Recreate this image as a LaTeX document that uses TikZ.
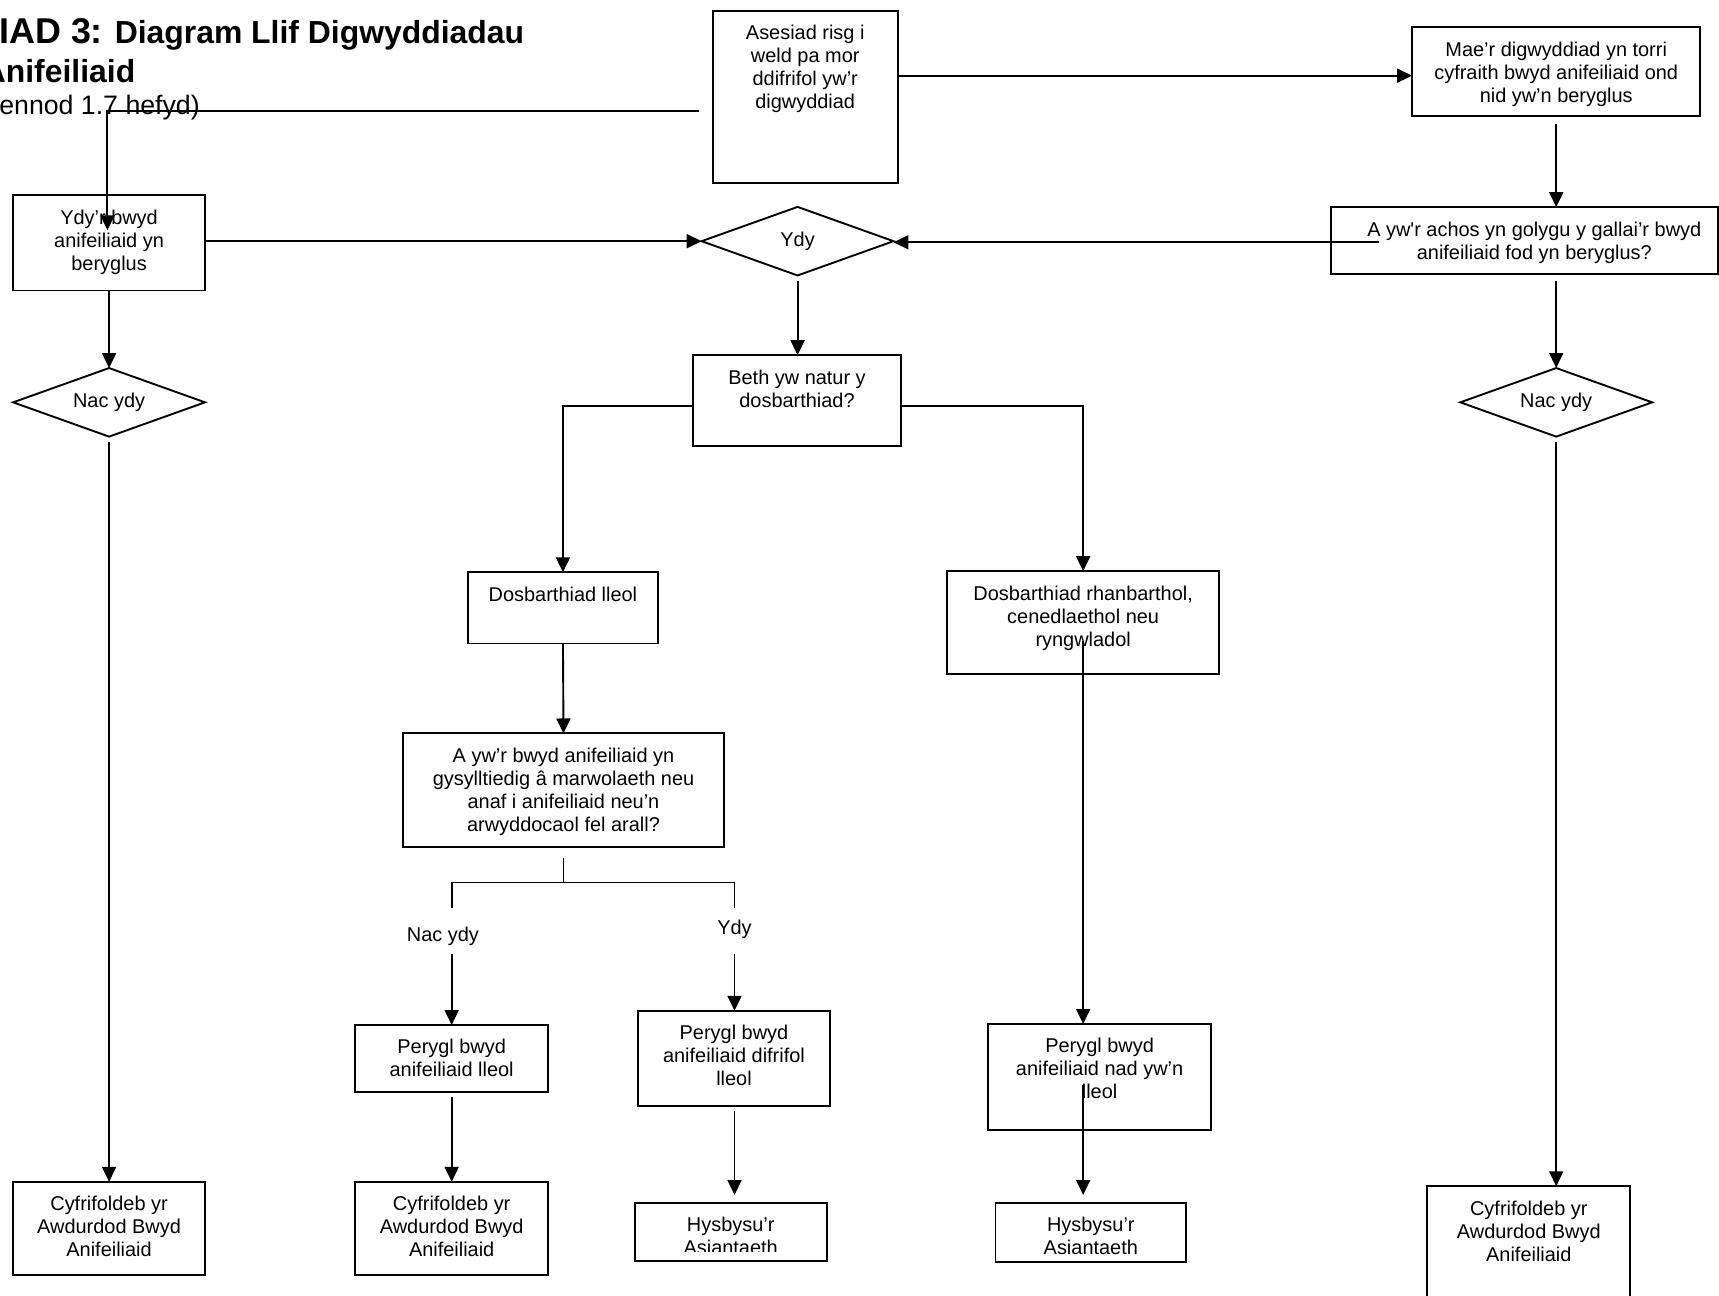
\documentclass[tikz,border=0pt]{standalone}
\usepackage{fontspec}
\setmainfont{Liberation Sans}
\usetikzlibrary{arrows.meta,shapes.geometric}
\newdimen\pxu \pxu=0.55pt
\newcommand{\bt}[3]{\parbox[c][#2\pxu][t]{#1\pxu}{\centering\fontsize{10}{11.55}\selectfont\rule{0pt}{14.5pt}#3\par}}
\tikzset{
  box/.style={draw, line width=0.95pt, inner sep=0pt, outer sep=0pt, anchor=north west},
  dmd/.style={draw, diamond, aspect=3, line width=0.95pt, inner sep=0pt, outer sep=0pt,
              minimum width=96.25pt, minimum height=34.4pt, font=\fontsize{10}{11.55}\selectfont},
  conn/.style={line width=0.95pt},
  arr/.style={conn, -{Triangle[length=7.5pt,width=7pt]}},
  lbl/.style={inner sep=0pt, font=\fontsize{10}{11.55}\selectfont},
  ttl/.style={inner sep=0pt, anchor=base west}
}
\begin{document}
\begin{tikzpicture}[x=0.55pt,y=-0.55pt]
\useasboundingbox (0,0) rectangle (1568,1182);
% title
\node[ttl] (t1) at (-1,40) {\bfseries{\fontsize{18}{20}\selectfont IAD 3:}{\fontsize{16}{18}\selectfont{} Diagram Llif Digwyddiadau}};
\node[ttl] (t2) at (-16,75) {\fontsize{16}{18}\selectfont\bfseries Anifeiliaid};
\node[ttl] (t3) at (-1,104) {\fontsize{13.4}{15}\selectfont ennod 1.7 hefyd)};
% boxes
\node[box] (ases) at (650,10) {\bt{169}{157}{Asesiad risg i\\weld pa mor\\ddifrifol yw’r\\digwyddiad}};
\node[box] (mae) at (1288,25) {\bt{263}{81}{Mae’r digwyddiad yn torri\\cyfraith bwyd anifeiliaid ond\\nid yw’n beryglus}};
\node[box] (achos) at (1214,189) {\bt{353}{61}{\leftskip=18\pxu plus 1fil A yw\textquotesingle r achos yn golygu y gallai’r bwyd\\anifeiliaid fod yn beryglus?}};
\node[box] (ydyb) at (12,178) {\bt{175}{87}{Ydy’r bwyd\\anifeiliaid yn\\beryglus}};
\node[dmd] (ydyd) at (727.5,220) {Ydy};
\node[dmd] (nacL) at (99.5,367) {Nac ydy};
\node[dmd] (nacR) at (1419.5,367) {Nac ydy};
\node[box] (beth) at (632,324) {\bt{190}{83}{Beth yw natur y\\dosbarthiad?}};
\node[box] (dlleol) at (427,522) {\bt{173}{65}{Dosbarthiad lleol}};
\node[box] (drhan) at (864,521) {\bt{248}{94}{Dosbarthiad rhanbarthol,\\cenedlaethol neu\\ryngwladol}};
\node[box] (ayw) at (368,669) {\bt{292}{104}{A yw’r bwyd anifeiliaid yn\\gysylltiedig â marwolaeth neu\\anaf i anifeiliaid neu’n\\arwyddocaol fel arall?}};
\node[box] (plleol) at (324,935) {\bt{176}{61}{Perygl bwyd\\anifeiliaid lleol}};
\node[box] (pdif) at (582,922) {\bt{175}{87}{Perygl bwyd\\anifeiliaid difrifol\\lleol}};
\node[box] (pnad) at (901,934) {\bt{204}{97}{Perygl bwyd\\anifeiliaid nad yw’n\\lleol}};
\node[box] (cyfL) at (12,1078) {\bt{175}{85}{Cyfrifoldeb yr\\Awdurdod Bwyd\\Anifeiliaid}};
\node[box] (cyfM) at (324,1078) {\bt{176}{85}{Cyfrifoldeb yr\\Awdurdod Bwyd\\Anifeiliaid}};
\node[box] (cyfR) at (1302,1082) {\bt{185}{115}{Cyfrifoldeb yr\\Awdurdod Bwyd\\Anifeiliaid}};
\node[box] (hysM) at (579,1097) {\bt{175}{53}{}};
\node[box] (hysR) at (908,1097) {\bt{174}{54}{}};
\begin{scope}
\clip (579,1097) rectangle (754,1142);
\node[box, draw=none] (hysMt) at (579,1097) {\bt{175}{53}{Hysbysu’r\\Asiantaeth}};
\end{scope}
\begin{scope}
\clip (908,1097) rectangle (1082,1144);
\node[box, draw=none] (hysRt) at (908,1097) {\bt{174}{54}{Hysbysu’r\\Asiantaeth}};
\end{scope}
% connectors
\coordinate (aS) at (638,101);
\coordinate (aE) at (98,210);
\draw[arr] (aS) -| (aE);
\coordinate (y69) at (0,69);
\draw[arr] (ases.east |- y69) -- (mae.west |- y69);
\coordinate (cS) at (1419.5,113);
\draw[arr] (cS) -- (cS |- achos.north);
\coordinate (dS) at (1258,221);
\draw[arr] (dS) -- (ydyd.east |- dS);
\draw[arr] (ydyb.east |- ydyd.west) -- (ydyd.west);
\draw[arr] (ydyb.south) -- (nacL.north);
\coordinate (gS) at (99.5,403);
\draw[arr] (gS) -- (cyfL.north);
\coordinate (hS) at (1419.5,256);
\draw[arr] (hS) -- (nacR.north);
\coordinate (iS) at (1419.5,403);
\draw[arr] (iS) -- (iS |- cyfR.north);
\coordinate (jS) at (727.5,256);
\draw[arr] (jS) -- (jS |- beth.north);
\coordinate (y370) at (0,370);
\draw[arr] (beth.west |- y370) -| (dlleol.north);
\draw[arr] (beth.east |- y370) -| (drhan.north);
\draw[arr] (dlleol.south) -- (ayw.north);
\coordinate (nS) at (514,783);
\coordinate (nJ) at (514,805);
\coordinate (nL) at (412,828);
\coordinate (nR) at (670,828);
\draw[conn] (nS) -- (nJ);
\draw[conn] (nL) |- (nJ) -| (nR);
\node[lbl] (lNac) at (404,854) {Nac ydy};
\node[lbl] (lYdy) at (670,848) {Ydy};
\coordinate (pS) at (412,870);
\draw[arr] (pS) -- (plleol.north);
\coordinate (qS) at (670,870);
\draw[arr] (qS) -- (qS |- pdif.north);
\coordinate (rS) at (988,585);
\draw[arr] (rS) -- (rS |- pnad.north);
\coordinate (sS) at (412,1001);
\draw[arr] (sS) -- (cyfM.north);
\coordinate (tS) at (670,1013);
\coordinate (tE) at (670,1090);
\draw[arr] (tS) -- (tE);
\coordinate (uS) at (988,990);
\coordinate (uE) at (988,1090);
\draw[arr] (uS) -- (uE);
\end{tikzpicture}
\end{document}
